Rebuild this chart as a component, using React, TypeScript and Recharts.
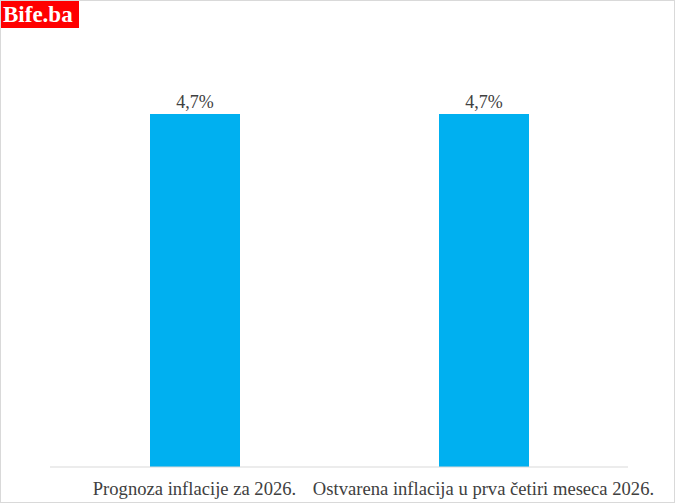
import { BarChart, Bar, XAxis, YAxis, LabelList } from "recharts";

const categories = ["Prognoza inflacije za 2026.", "Ostvarena inflacija u prva četiri meseca 2026."];
const values = [4.7, 4.7];

const data = categories.map((name, i) => ({ name, value: values[i] }));

const serif = "'Liberation Serif', 'Times New Roman', serif";

function CategoryTick({ x, y, payload }: any) {
  return (
    <text x={x} y={y + 20} textAnchor="middle" fontFamily={serif} fontSize={18.6} fill="#404040">
      {payload.value}
    </text>
  );
}

export default function App() {
  return (
    <div
      style={{
        position: "absolute",
        left: 0,
        top: 0,
        width: 675,
        height: 503,
        background: "#fff",
        boxSizing: "border-box",
        border: "1px solid #d9d9d9",
        fontFamily: serif,
      }}
    >
      <BarChart
        width={673}
        height={501}
        data={data}
        margin={{ top: 90.5, right: 46, left: 49, bottom: 0 }}
        barSize={90}
      >
        <XAxis
          dataKey="name"
          axisLine={{ stroke: "#d9d9d9" }}
          tickLine={false}
          height={35}
          interval={0}
          tick={<CategoryTick />}
        />
        <YAxis hide domain={[0, 5]} />
        <Bar dataKey="value" fill="#00b0f0" isAnimationActive={false}>
          <LabelList
            dataKey="value"
            position="top"
            offset={6}
            formatter={(v: any) => `${String(v).replace(".", ",")}%`}
            style={{ fontFamily: serif, fontSize: 18, fill: "#404040" }}
          />
        </Bar>
      </BarChart>
      <div
        style={{
          position: "absolute",
          left: 0,
          top: 0,
          width: 78,
          height: 27,
          background: "#ff0000",
          color: "#fff",
          fontFamily: serif,
          fontWeight: "bold",
          fontSize: 23,
          lineHeight: "27px",
          paddingLeft: 2,
          boxSizing: "border-box",
          whiteSpace: "nowrap",
        }}
      >
        Bife.ba
      </div>
    </div>
  );
}
